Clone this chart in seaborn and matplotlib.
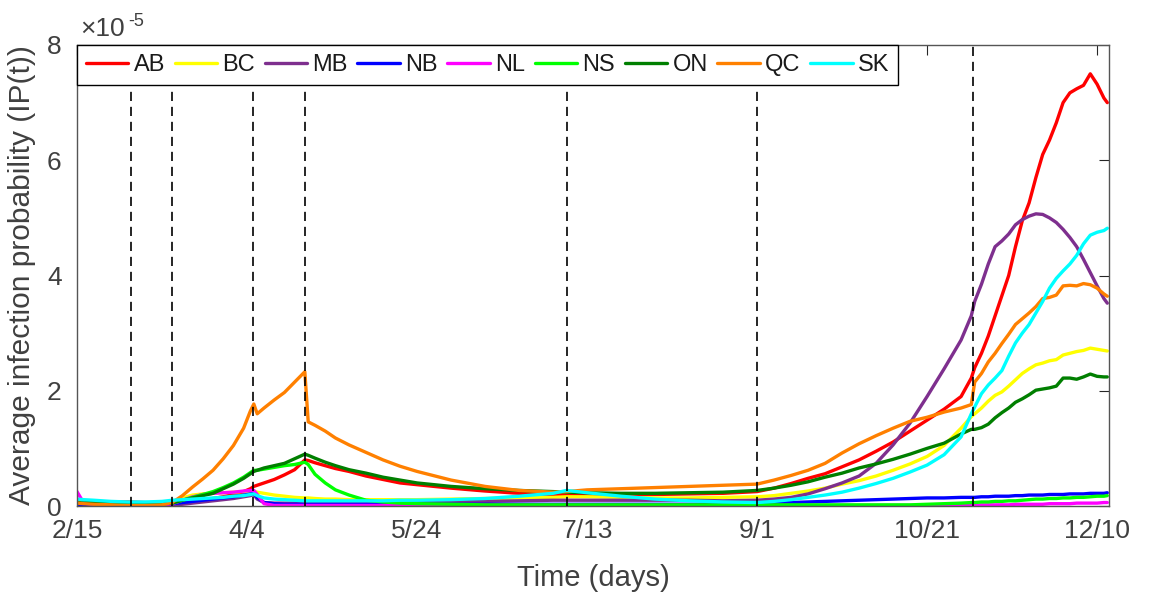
import matplotlib
matplotlib.use("Agg")
import matplotlib.pyplot as plt
from matplotlib.lines import Line2D
import numpy as np
import pandas as pd
import seaborn as sns

# ---------------- data (values in units of 1e-5) ----------------
days = [0, 2, 5, 10, 15, 20, 25, 28, 31, 34,
        37, 40, 43, 46, 49, 51, 52, 53, 55, 58,
        61, 64, 67, 68, 70, 73, 76, 80, 85, 90,
        95, 100, 110, 120, 130, 140, 144, 150, 160, 170,
        180, 190, 200, 205, 210, 215, 220, 225, 230, 235,
        240, 245, 250, 255, 260, 263, 264, 266, 268, 270,
        272, 274, 276, 278, 280, 282, 284, 286, 288, 290,
        292, 294, 296, 298, 300, 302, 303]

AB = [0.07, 0.07, 0.07, 0.07, 0.07, 0.06, 0.05, 0.05, 0.06, 0.08,
      0.10, 0.13, 0.16, 0.20, 0.25, 0.30, 0.34, 0.36, 0.40, 0.46,
      0.54, 0.63, 0.80, 0.79, 0.75, 0.70, 0.65, 0.60, 0.52, 0.46,
      0.40, 0.37, 0.31, 0.26, 0.22, 0.20, 0.19, 0.19, 0.19, 0.20,
      0.21, 0.22, 0.25, 0.31, 0.39, 0.48, 0.56, 0.68, 0.80, 0.95,
      1.11, 1.30, 1.49, 1.68, 1.90, 2.22, 2.40, 2.65, 2.95, 3.30,
      3.65, 4.00, 4.50, 4.95, 5.26, 5.70, 6.10, 6.35, 6.65, 7.00,
      7.17, 7.24, 7.30, 7.50, 7.32, 7.08, 7.00]

BC = [0.02, 0.02, 0.02, 0.02, 0.02, 0.02, 0.02, 0.06, 0.14, 0.19,
      0.21, 0.22, 0.23, 0.24, 0.25, 0.26, 0.26, 0.24, 0.22, 0.19,
      0.17, 0.15, 0.14, 0.14, 0.13, 0.12, 0.12, 0.11, 0.11, 0.11,
      0.11, 0.11, 0.12, 0.13, 0.14, 0.15, 0.16, 0.16, 0.15, 0.14,
      0.14, 0.15, 0.16, 0.18, 0.22, 0.26, 0.31, 0.38, 0.44, 0.52,
      0.62, 0.73, 0.86, 1.05, 1.35, 1.55, 1.60, 1.70, 1.82, 1.92,
      1.98, 2.08, 2.19, 2.30, 2.38, 2.45, 2.48, 2.52, 2.54, 2.62,
      2.65, 2.68, 2.70, 2.74, 2.72, 2.70, 2.69]

MB = [0.03, 0.03, 0.03, 0.03, 0.03, 0.03, 0.03, 0.02, 0.03, 0.05,
      0.07, 0.09, 0.11, 0.13, 0.16, 0.18, 0.20, 0.12, 0.06, 0.05,
      0.05, 0.05, 0.05, 0.05, 0.05, 0.05, 0.05, 0.05, 0.05, 0.05,
      0.05, 0.06, 0.07, 0.08, 0.09, 0.10, 0.10, 0.10, 0.10, 0.10,
      0.10, 0.09, 0.10, 0.12, 0.15, 0.21, 0.30, 0.40, 0.52, 0.74,
      1.06, 1.44, 1.90, 2.38, 2.88, 3.30, 3.55, 3.85, 4.20, 4.50,
      4.60, 4.72, 4.88, 4.97, 5.03, 5.07, 5.06, 5.00, 4.92, 4.80,
      4.66, 4.50, 4.28, 4.05, 3.82, 3.60, 3.52]

NB = [0.03, 0.03, 0.03, 0.03, 0.03, 0.03, 0.03, 0.04, 0.06, 0.08,
      0.10, 0.12, 0.14, 0.16, 0.19, 0.21, 0.22, 0.15, 0.06, 0.04,
      0.03, 0.03, 0.03, 0.03, 0.03, 0.03, 0.03, 0.03, 0.03, 0.03,
      0.03, 0.03, 0.03, 0.03, 0.03, 0.03, 0.03, 0.03, 0.03, 0.03,
      0.03, 0.03, 0.04, 0.05, 0.06, 0.07, 0.08, 0.09, 0.10, 0.11,
      0.12, 0.13, 0.14, 0.14, 0.15, 0.15, 0.15, 0.16, 0.16, 0.17,
      0.17, 0.17, 0.18, 0.18, 0.19, 0.19, 0.19, 0.20, 0.20, 0.20,
      0.21, 0.21, 0.21, 0.22, 0.22, 0.22, 0.23]

NL = [0.25, 0.05, 0.03, 0.02, 0.01, 0.01, 0.02, 0.04, 0.10, 0.16,
      0.20, 0.22, 0.23, 0.24, 0.26, 0.27, 0.27, 0.20, 0.04, 0.01,
      0.01, 0.01, 0.01, 0.01, 0.01, 0.01, 0.01, 0.01, 0.01, 0.01,
      0.01, 0.01, 0.01, 0.01, 0.01, 0.01, 0.01, 0.01, 0.01, 0.01,
      0.01, 0.01, 0.01, 0.01, 0.01, 0.01, 0.01, 0.01, 0.01, 0.01,
      0.01, 0.01, 0.01, 0.01, 0.01, 0.01, 0.01, 0.02, 0.02, 0.02,
      0.02, 0.02, 0.03, 0.03, 0.03, 0.03, 0.03, 0.04, 0.04, 0.04,
      0.04, 0.05, 0.05, 0.05, 0.05, 0.06, 0.06]

NS = [0.05, 0.05, 0.05, 0.04, 0.04, 0.04, 0.04, 0.05, 0.10, 0.15,
      0.20, 0.25, 0.32, 0.40, 0.50, 0.58, 0.62, 0.62, 0.64, 0.67,
      0.70, 0.72, 0.76, 0.72, 0.55, 0.40, 0.28, 0.19, 0.10, 0.07,
      0.05, 0.04, 0.03, 0.02, 0.02, 0.02, 0.02, 0.02, 0.02, 0.02,
      0.02, 0.02, 0.02, 0.02, 0.02, 0.02, 0.02, 0.02, 0.02, 0.02,
      0.02, 0.02, 0.03, 0.04, 0.05, 0.06, 0.06, 0.07, 0.07, 0.08,
      0.08, 0.09, 0.09, 0.10, 0.11, 0.12, 0.12, 0.13, 0.13, 0.14,
      0.14, 0.15, 0.15, 0.16, 0.17, 0.17, 0.18]

ON = [0.05, 0.05, 0.05, 0.04, 0.04, 0.04, 0.04, 0.05, 0.10, 0.14,
      0.18, 0.22, 0.30, 0.38, 0.48, 0.56, 0.60, 0.62, 0.66, 0.70,
      0.74, 0.82, 0.90, 0.88, 0.83, 0.76, 0.70, 0.63, 0.57, 0.50,
      0.45, 0.40, 0.34, 0.30, 0.27, 0.25, 0.24, 0.23, 0.22, 0.22,
      0.23, 0.24, 0.27, 0.31, 0.36, 0.42, 0.50, 0.57, 0.66, 0.73,
      0.81, 0.90, 1.00, 1.09, 1.25, 1.33, 1.33, 1.36, 1.42, 1.53,
      1.62, 1.70, 1.80, 1.86, 1.93, 2.01, 2.03, 2.05, 2.08, 2.22,
      2.22, 2.20, 2.24, 2.29, 2.25, 2.24, 2.24]

QC = [0.05, 0.04, 0.03, 0.02, 0.01, 0.01, 0.02, 0.06, 0.18, 0.33,
      0.47, 0.62, 0.82, 1.05, 1.35, 1.65, 1.77, 1.60, 1.70, 1.84,
      1.97, 2.15, 2.33, 1.46, 1.40, 1.30, 1.18, 1.06, 0.93, 0.80,
      0.69, 0.60, 0.45, 0.34, 0.27, 0.24, 0.25, 0.28, 0.30, 0.32,
      0.34, 0.36, 0.38, 0.45, 0.53, 0.62, 0.74, 0.92, 1.08, 1.22,
      1.35, 1.47, 1.54, 1.63, 1.70, 1.76, 2.15, 2.30, 2.50, 2.65,
      2.82, 2.98, 3.15, 3.25, 3.35, 3.46, 3.60, 3.62, 3.66, 3.82,
      3.83, 3.82, 3.86, 3.84, 3.78, 3.68, 3.64]

SK = [0.12, 0.11, 0.10, 0.08, 0.07, 0.07, 0.08, 0.10, 0.11, 0.12,
      0.13, 0.14, 0.15, 0.17, 0.18, 0.20, 0.21, 0.18, 0.14, 0.12,
      0.11, 0.10, 0.09, 0.09, 0.09, 0.09, 0.09, 0.09, 0.09, 0.09,
      0.10, 0.10, 0.11, 0.13, 0.17, 0.22, 0.27, 0.23, 0.17, 0.12,
      0.09, 0.07, 0.06, 0.08, 0.11, 0.15, 0.19, 0.24, 0.31, 0.39,
      0.48, 0.59, 0.71, 0.89, 1.20, 1.60, 1.72, 1.95, 2.10, 2.22,
      2.35, 2.60, 2.83, 3.00, 3.15, 3.35, 3.55, 3.78, 3.95, 4.08,
      4.20, 4.35, 4.55, 4.70, 4.75, 4.78, 4.82]

regions = ["AB", "BC", "MB", "NB", "NL", "NS", "ON", "QC", "SK"]
series = [AB, BC, MB, NB, NL, NS, ON, QC, SK]
colors = ["#FF0000", "#FFFF00", "#7E2F8E", "#0000FF", "#FF00FF",
          "#00FF00", "#007F00", "#FF8000", "#00FFFF"]

tick_days = [0, 50, 100, 150, 200, 250, 300]
tick_labels = ["2/15", "4/4", "5/24", "7/13", "9/1", "10/21", "12/10"]
y_ticks = [0, 2, 4, 6, 8]
event_days = [15.8, 27.9, 51.9, 67.0, 144.0, 200.0, 263.4]

# ---------------- figure ----------------
sns.set_theme(style="white")
plt.rcParams["font.family"] = ["Liberation Sans", "DejaVu Sans"]

W, H = 1149, 594
fig = plt.figure(figsize=(W / 100, H / 100), dpi=100)
ax = fig.add_axes([77 / W, 1 - 506 / H, (1109 - 77) / W, (506 - 45) / H])

df = pd.concat(
    [pd.DataFrame({"day": days, "value": s, "region": r}) for r, s in zip(regions, series)],
    ignore_index=True,
)
palette = dict(zip(regions, colors))
sns.lineplot(data=df, x="day", y="value", hue="region", hue_order=regions,
             palette=palette, estimator=None, sort=False, lw=2.4,
             legend=False, ax=ax)

for d in event_days:
    ax.axvline(d, color="black", lw=1.2, ls=(0, (5.5, 3.5)), zorder=3)

ax.set_xlim(0, 303.5)
ax.set_ylim(0, 8)
ax.set_xticks(tick_days)
ax.set_xticklabels(tick_labels)
ax.set_yticks(y_ticks)
ax.set_yticklabels([str(v) for v in y_ticks])

txt = "#262626"
ax.tick_params(direction="in", length=7, width=0.8, top=True, right=True,
               labelsize=19, color=txt, labelcolor="#404040")
ax.tick_params(axis="x", pad=9)
ax.tick_params(axis="y", pad=11)
for sp in ax.spines.values():
    sp.set_color("#555555")
    sp.set_linewidth(1.0)

ax.set_xlabel("Time (days)", fontsize=21, color="#404040")
ax.set_ylabel("Average infection probability (IP(t))", fontsize=21.5, color="#404040")
ax.xaxis.set_label_coords(0.5, -0.126)
ax.yaxis.set_label_coords(-0.040, 0.5)

# exponent label
fig.text(80 / W, 1 - 36 / H, "\u00d710", fontsize=19, color="#404040", va="baseline", ha="left")
fig.text(128 / W, 1 - 26 / H, "-5", fontsize=13, color="#404040", va="baseline", ha="left")

handles = [Line2D([0], [0], color=c, lw=2.4) for c in colors]
leg = ax.legend(handles, regions, ncol=9, loc="upper left", bbox_to_anchor=(0, 1),
                borderaxespad=0, frameon=True, fancybox=False, edgecolor="black",
                framealpha=1, fontsize=17, handlelength=1.8, handletextpad=0.22,
                columnspacing=0.41, borderpad=0.38)
leg.get_frame().set_linewidth(1.0)
leg.set_zorder(10)
for t in leg.get_texts():
    t.set_color("#1a1a1a")

fig.savefig("out.png", dpi=100)
